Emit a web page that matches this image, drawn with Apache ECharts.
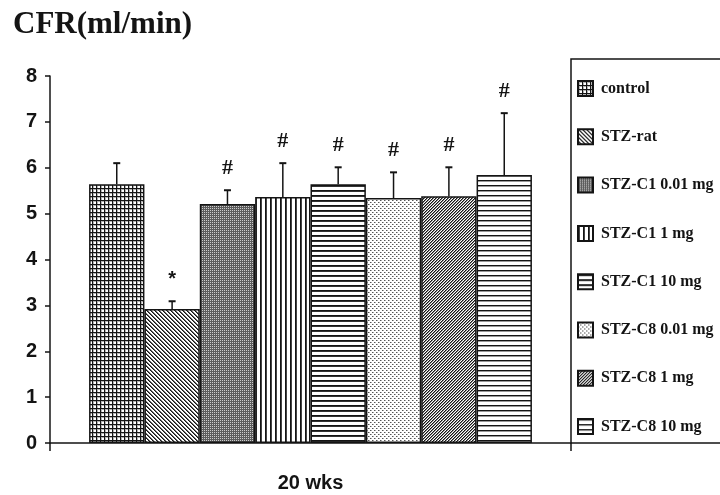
<!DOCTYPE html>
<html>
<head>
<meta charset="utf-8">
<script src="https://cdn.jsdelivr.net/npm/echarts@6/dist/echarts.min.js"></script>
<style>
  html, body { margin: 0; padding: 0; background: #fff; }
  #chart { width: 720px; height: 495px; }
</style>
</head>
<body>
<div id="chart"></div>
<script>
// Coronary flow rate at 20 weeks, mean + SEM per treatment group
const categories = ['20 wks'];
const groups = ['control', 'STZ-rat', 'STZ-C1 0.01 mg', 'STZ-C1 1 mg', 'STZ-C1 10 mg',
                'STZ-C8 0.01 mg', 'STZ-C8 1 mg', 'STZ-C8 10 mg'];
const means = [5.64, 2.92, 5.21, 5.36, 5.64, 5.34, 5.38, 5.84];
const sems  = [0.46, 0.17, 0.30, 0.74, 0.37, 0.56, 0.63, 1.35];
const marks = ['', '*', '#', '#', '#', '#', '#', '#'];
const yMin = 0, yMax = 8, yStep = 1;

const INK = '#141414';

// Monochrome hatch fills built as small repeating canvas tiles
function tile(w, h, paint) {
  const c = document.createElement('canvas');
  c.width = w; c.height = h;
  const g = c.getContext('2d');
  g.fillStyle = '#fff';
  g.fillRect(0, 0, w, h);
  paint(g, w, h);
  return { image: c, repeat: 'repeat' };
}
function px(g, x, y, col) { g.fillStyle = col; g.fillRect(x, y, 1, 1); }

const fills = [
  // grid
  tile(4, 4, g => {
    g.fillStyle = '#b4b4b4'; g.fillRect(0, 1, 4, 1); g.fillRect(1, 0, 1, 4);
    g.fillStyle = INK; g.fillRect(0, 0, 4, 1); g.fillRect(0, 0, 1, 4);
  }),
  // back-diagonal lines
  tile(4, 4, g => { for (let y = 0; y < 4; y++) for (let x = 0; x < 4; x++) {
    const k = ((x - y) % 4 + 4) % 4;
    if (k === 0) px(g, x, y, INK); else if (k === 1) px(g, x, y, '#666');
  } }),
  // dense dark stipple
  tile(2, 2, g => { g.fillStyle = '#5c5c5c'; g.fillRect(0, 0, 2, 2); px(g, 0, 0, '#cccccc'); }),
  // vertical lines
  tile(5, 1, g => { px(g, 0, 0, INK); px(g, 1, 0, '#444'); }),
  // heavy horizontal lines
  tile(1, 5, g => { px(g, 0, 0, INK); px(g, 0, 1, '#333'); }),
  // light dot checker
  tile(4, 4, g => { g.fillStyle = '#555'; g.fillRect(0, 0, 1, 1); g.fillRect(2, 2, 1, 1);
    g.fillStyle = '#aaa'; g.fillRect(1, 0, 1, 1); g.fillRect(3, 2, 1, 1); }),
  // forward-diagonal lines
  tile(3, 3, g => { for (let y = 0; y < 3; y++) for (let x = 0; x < 3; x++) {
    const k = (x + y) % 3;
    if (k === 0) px(g, x, y, INK); else if (k === 1) px(g, x, y, '#888');
  } }),
  // thin horizontal lines
  tile(1, 5, g => { px(g, 0, 0, INK); px(g, 0, 1, '#999'); })
];

const BAR_GAP = 0.15;

const barSeries = groups.map((name, i) => ({
  name,
  type: 'bar',
  data: [means[i]],
  barGap: '0%',
  barCategoryGap: (BAR_GAP * 100) + '%',
  itemStyle: { color: fills[i], borderColor: INK, borderWidth: 1.5 },
  z: 2
}));

// Upper error whiskers with caps, plus significance symbols above them
const errorSeries = {
  type: 'custom',
  name: 'sem',
  data: groups.map((g, i) => [0, means[i], means[i] + sems[i], i]),
  encode: { x: 0, y: [1, 2] },
  z: 5,
  silent: true,
  renderItem(params, api) {
    const i = api.value(3);
    const band = api.size([1, 0])[0];
    const base = api.coord([api.value(0), api.value(1)]);
    const top = api.coord([api.value(0), api.value(2)]);
    const barW = band * (1 - BAR_GAP) / groups.length;
    const cx = base[0] - band * (1 - BAR_GAP) / 2 + (i + 0.5) * barW;
    const cap = 3.5;
    const children = [
      { type: 'line', shape: { x1: cx, y1: base[1], x2: cx, y2: top[1] },
        style: { stroke: INK, lineWidth: 1.5 } },
      { type: 'line', shape: { x1: cx - cap, y1: top[1], x2: cx + cap, y2: top[1] },
        style: { stroke: INK, lineWidth: 2 } }
    ];
    const m = marks[i];
    if (m) {
      children.push({
        type: 'text',
        style: {
          text: m, x: cx, y: top[1] - 22,
          align: 'center', verticalAlign: 'middle',
          font: m === '*' ? 'bold 20px "Liberation Sans"' : 'bold 22px "Liberation Serif"',
          fill: INK
        }
      });
    }
    return { type: 'group', children };
  }
};

const chart = echarts.init(document.getElementById('chart'), null, { renderer: 'canvas' });
chart.setOption({
  animation: false,
  backgroundColor: '#fff',
  title: {
    text: 'CFR(ml/min)',
    left: 8, top: 4,
    textStyle: { fontFamily: 'Liberation Serif', fontWeight: 'bold', fontSize: 31, color: INK }
  },
  grid: { left: 50, right: 149, top: 76, bottom: 52 },
  legend: {
    data: groups,
    orient: 'vertical',
    left: 571, top: 59,
    padding: [21, 60, 8, 6],
    itemWidth: 15, itemHeight: 15, itemGap: 31.3,
    icon: 'rect',
    selectedMode: false,
    borderColor: INK, borderWidth: 1.5,
    textStyle: { fontFamily: 'Liberation Serif', fontWeight: 'bold', fontSize: 16, color: INK,
                 padding: [0, 0, 0, 3] }
  },
  xAxis: {
    type: 'category',
    data: categories,
    axisLine: { lineStyle: { color: INK, width: 1.5 } },
    axisTick: { show: true, length: 8, lineStyle: { color: INK, width: 1.5 } },
    axisLabel: { margin: 30, fontFamily: 'Liberation Sans', fontWeight: 'bold', fontSize: 20, color: INK }
  },
  yAxis: {
    type: 'value',
    min: yMin, max: yMax, interval: yStep,
    splitLine: { show: false },
    axisLine: { show: true, lineStyle: { color: INK, width: 1.5 } },
    axisTick: { show: true, length: 5, lineStyle: { color: INK, width: 1.5 } },
    axisLabel: { margin: 13, fontFamily: 'Liberation Sans', fontWeight: 'bold', fontSize: 20, color: INK }
  },
  series: [...barSeries, errorSeries]
});
</script>
</body>
</html>
